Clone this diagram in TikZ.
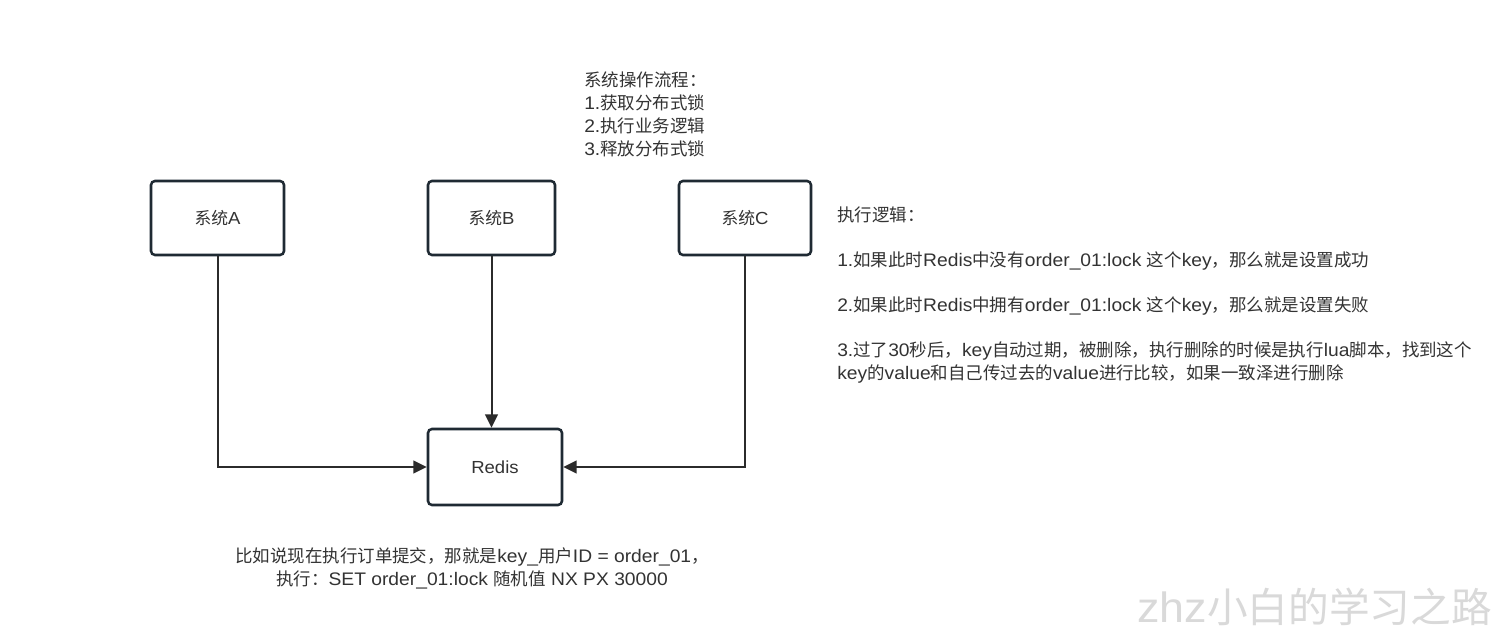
\documentclass[tikz,border=0pt]{standalone}
\usepackage{fontspec}
\setmainfont{Noto Sans CJK SC}
\newfontfamily\latfont[Scale=1.04,FakeStretch=1.06]{Liberation Sans}
\newcommand{\lt}[1]{{\latfont #1}}
\usetikzlibrary{arrows.meta}
\definecolor{boxline}{HTML}{1F2A33}
\definecolor{conn}{HTML}{2B2B2B}
\definecolor{txt}{HTML}{333333}
\tikzset{
  sysbox/.style={draw=boxline, line width=1.9pt, rounded corners=3pt, fill=white, inner sep=0pt, font=\fontsize{12.6pt}{14pt}\selectfont, text=txt},
  conn/.style={draw=conn, line width=1.5pt, -{Triangle[length=10pt,width=9.5pt]}},
  note/.style={font=\fontsize{13.1pt}{17.25pt}\selectfont, text=txt, inner sep=0pt, align=left},
}
\begin{document}
\begin{tikzpicture}[x=0.75pt,y=-0.75pt]
\useasboundingbox[fill=white] (0,0) rectangle (1500,634);
\node[sysbox, minimum width=133*0.75pt, minimum height=74*0.75pt] (A) at (217.5,218) {系统\lt{A}};
\node[sysbox, minimum width=127*0.75pt, minimum height=74*0.75pt] (B) at (491.5,218) {系统\lt{B}};
\node[sysbox, minimum width=132*0.75pt, minimum height=74*0.75pt] (C) at (745,218) {系统\lt{C}};
\node[sysbox, minimum width=134*0.75pt, minimum height=76*0.75pt] (R) at (495,467) {\lt{Redis}};
\draw[conn] (A.south) |- (R.west);
\draw[conn] (B.south) -- (B.south |- R.north);
\draw[conn] (C.south) |- (R.east);
\node[note, anchor=north west] (flow) at (584,71) {系统操作流程：\\\lt{1.}获取分布式锁\\\lt{2.}执行业务逻辑\\\lt{3.}释放分布式锁};
\node[note, anchor=north west] (logic) at (837,207) {执行逻辑：\\[16.5pt]\lt{1.}如果此时\lt{Redis}中没有\lt{order\_01:lock }这个\lt{key}，那么就是设置成功\\[16.5pt]\lt{2.}如果此时\lt{Redis}中拥有\lt{order\_01:lock }这个\lt{key}，那么就是设置失败\\[16.5pt]\lt{3.}过了\lt{30}秒后，\lt{key}自动过期，被删除，执行删除的时候是执行\lt{lua}脚本，找到这个\\\lt{key}的\lt{value}和自己传过去的\lt{value}进行比较，如果一致泽进行删除};
\node[note, align=center, anchor=north] (ex) at (472,547) {比如说现在执行订单提交，那就是\lt{key\_}用户\lt{ID = order\_01}，\\执行：\lt{SET order\_01:lock }随机值\lt{ NX PX 30000}};
\node[font=\fontsize{30.5pt}{34pt}\selectfont, text=gray!30, anchor=east, inner sep=0pt] (wm) at (1492,607) {\lt{zhz}小白的学习之路};
\end{tikzpicture}
\end{document}
